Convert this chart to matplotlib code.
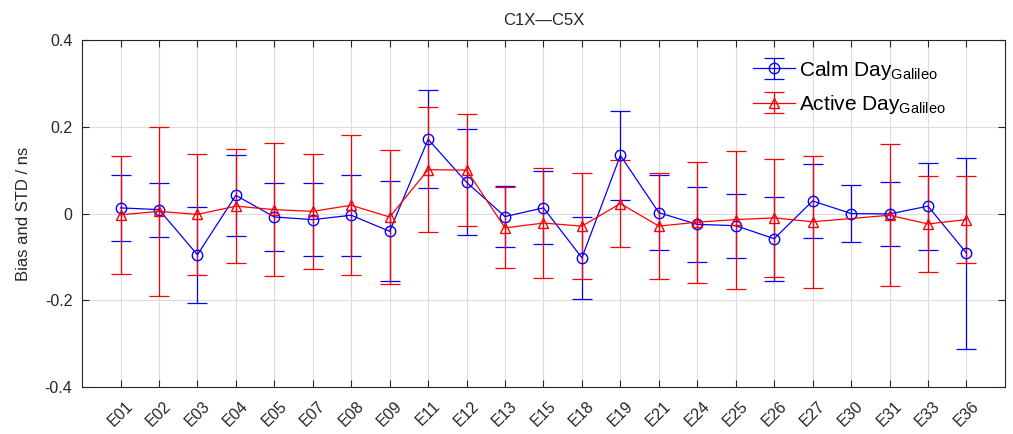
import numpy as np
import matplotlib.pyplot as plt

# satelites Galileo
sats = ['E01', 'E02', 'E03', 'E04', 'E05', 'E07', 'E08', 'E09', 'E11', 'E12', 'E13', 'E15',
        'E18', 'E19', 'E21', 'E24', 'E25', 'E26', 'E27', 'E30', 'E31', 'E33', 'E36']

# dia tranquilo
calm_bias = [0.013, 0.009, -0.095, 0.042, -0.008, -0.014, -0.004, -0.041, 0.171, 0.072, -0.007, 0.013,
             -0.102, 0.134, 0.002, -0.025, -0.028, -0.058, 0.029, 0.0, -0.001, 0.017, -0.091]
calm_std = [0.076, 0.062, 0.111, 0.094, 0.079, 0.085, 0.093, 0.115, 0.113, 0.122, 0.071, 0.084,
            0.094, 0.103, 0.086, 0.087, 0.074, 0.097, 0.086, 0.065, 0.073, 0.100, 0.220]

# dia activo (sin E30)
active_sats = ['E01', 'E02', 'E03', 'E04', 'E05', 'E07', 'E08', 'E09', 'E11', 'E12', 'E13', 'E15',
               'E18', 'E19', 'E21', 'E24', 'E25', 'E26', 'E27', 'E31', 'E33', 'E36']
active_bias = [-0.003, 0.005, -0.002, 0.017, 0.009, 0.005, 0.019, -0.008, 0.101, 0.100, -0.033, -0.022,
               -0.029, 0.023, -0.029, -0.020, -0.014, -0.010, -0.019, -0.004, -0.024, -0.014]
active_std = [0.136, 0.195, 0.139, 0.131, 0.154, 0.133, 0.161, 0.155, 0.144, 0.129, 0.093, 0.126,
              0.122, 0.101, 0.123, 0.139, 0.159, 0.136, 0.152, 0.164, 0.111, 0.100]

plt.rcParams['font.family'] = ['Liberation Sans', 'DejaVu Sans']
plt.rcParams['mathtext.fontset'] = 'custom'
plt.rcParams['mathtext.rm'] = 'Liberation Sans'

x_calm = [sats.index(s) + 1 for s in sats]
x_active = [sats.index(s) + 1 for s in active_sats]

fig = plt.figure(figsize=(10.13, 4.34), dpi=100)
ax = fig.add_axes([0.081, 0.108, 0.911, 0.8])

ax.errorbar(x_calm, calm_bias, yerr=calm_std, color='blue', marker='o', mfc='none',
            markersize=7.5, linewidth=0.9, elinewidth=0.9, capsize=7, capthick=0.9,
            label=r'Calm Day$_{\mathrm{Galileo}}$')
ax.errorbar(x_active, active_bias, yerr=active_std, color='red', marker='^', mfc='none',
            markersize=7.5, linewidth=0.9, elinewidth=0.9, capsize=7, capthick=0.9,
            label=r'Active Day$_{\mathrm{Galileo}}$')

ax.set_xlim(0, len(sats) + 1)
ax.set_ylim(-0.4, 0.4)
ax.set_xticks(range(1, len(sats) + 1))
ax.set_xticklabels(sats, rotation=45, color='#262626')
ax.set_yticks([-0.4, -0.2, 0, 0.2, 0.4])
ax.set_yticklabels(['-0.4', '-0.2', '0', '0.2', '0.4'], color='#262626')
ax.tick_params(direction='in', top=True, right=True, labelsize=11.5, length=5, color='#262626')
ax.tick_params(axis='x', pad=8)
ax.tick_params(axis='y', pad=7)
ax.grid(color='#dcdcdc', linewidth=0.8)
ax.set_axisbelow(True)
for sp in ax.spines.values():
    sp.set_color('#262626')

ax.set_ylabel('Bias and STD / ns', fontsize=12, color='#262626', labelpad=10)
ax.set_title('C1X\u2014C5X', fontsize=12, color='#262626', pad=11)

ax.legend(loc='upper left', bbox_to_anchor=(0.718, 0.97), frameon=False, fontsize=15,
          handlelength=2.0, handletextpad=0.2, borderaxespad=0.0, labelspacing=0.55)

fig.savefig('out.png', dpi=100)
